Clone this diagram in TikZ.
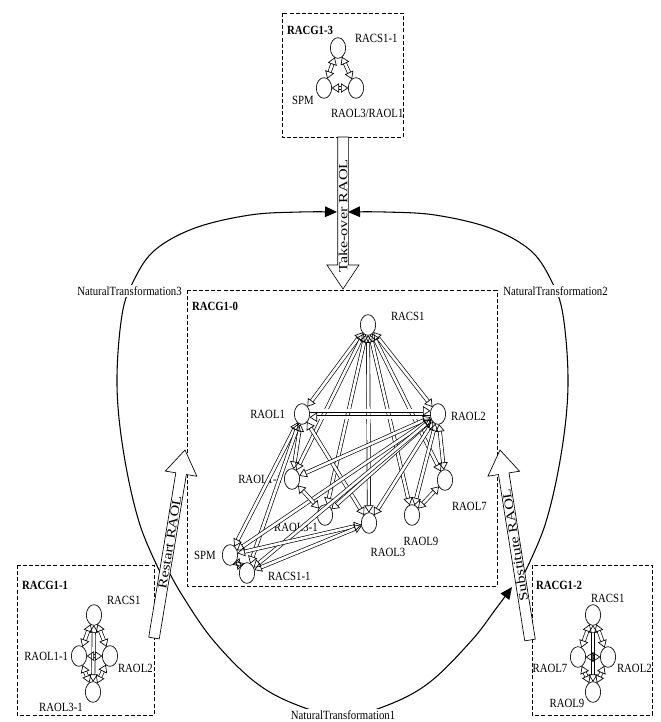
\documentclass[tikz,border=0pt]{standalone}
\usepackage{fontspec}
\setmainfont{Liberation Serif}[FakeStretch=0.86]
\usetikzlibrary{arrows.meta,shapes.geometric,calc}

% hollow block arrow from tail #1 to apex #2
\newcommand\hollowarrow[2]{%
  \path ($(#2)!18pt!(#1)$) coordinate (hb);
  \draw[bigarr] ($(#1)!4pt!90:(#2)$) -- ($(hb)!4pt!90:(#2)$) -- ($(hb)!12pt!90:(#2)$) -- (#2)
    -- ($(hb)!12pt!-90:(#2)$) -- ($(hb)!4pt!-90:(#2)$) -- ($(#1)!4pt!-90:(#2)$) -- cycle;
}

\begin{document}
\begin{tikzpicture}[x=0.75pt,y=-0.75pt]
\tikzset{
  every node/.style={font=\fontsize{9.4}{11}\selectfont, inner sep=0pt, outer sep=0pt},
  st/.style={draw, ellipse, line width=0.5pt, minimum width=11.5pt, minimum height=15.5pt, fill=white},
  grp/.style={draw, line width=0.5pt, dash pattern=on 3pt off 1.6pt},
  gname/.style={font=\fontsize{9.4}{11}\selectfont\bfseries, anchor=west},
  ht/.tip={Triangle[open, length=5.5pt, width=7pt, line width=0.5pt]},
  hol/.style={double, double distance=2pt, line width=0.5pt, arrows={ht-ht}},
  hol1/.style={double, double distance=2pt, line width=0.5pt, arrows={-ht}},
  nat/.style={line width=0.8pt, arrows={-{Triangle[length=9pt,width=8pt]}}},
  natlbl/.style={fill=white, inner sep=1pt},
  bigarr/.style={draw, fill=white, line width=0.5pt},
  bigtxt/.style={xscale=1.5, transform shape},
}
\useasboundingbox (0,0) rectangle (661,722);

% natural transformations
\draw[nat] plot[smooth, tension=0.6] coordinates {(163,578) (140,525) (124,455) (117,385) (122,315) (134,280) (155,250) (195,228) (250,215) (300,212) (337,212)};
\draw[nat] plot[smooth, tension=0.6] coordinates {(522,578) (545,525) (561,455) (568,385) (563,315) (551,280) (530,250) (490,228) (435,215) (385,212) (348,212)};
\draw[nat] plot[smooth, tension=0.6] coordinates {(166,566) (182,595) (213,640) (255,682) (297,705) (343,716) (388,705) (430,682) (472,640) (495,610) (512,587)};
\node[natlbl, anchor=east] (nt3) at (183,291) {NaturalTransformation3};
\node[natlbl, anchor=west] (nt2) at (502,291) {NaturalTransformation2};
\node[natlbl] (nt1) at (343,715) {NaturalTransformation1};

% group frames
\draw[grp] (282,13) rectangle (403,137);
\draw[grp] (187,290) rectangle (497,586);
\draw[grp] (17,565) rectangle (154,715);
\draw[grp] (532,565) rectangle (652,715);
\node[gname] (n3) at (287,30) {RACG1-3};
\node[gname] (n0) at (192,306) {RACG1-0};
\node[gname] (n1) at (22,585) {RACG1-1};
\node[gname] (n2) at (536,585) {RACG1-2};

% block arrows between groups
\coordinate (toT) at (343,137); \coordinate (toP) at (343,289);
\coordinate (rsT) at (154,638); \coordinate (rsP) at (185,450);
\coordinate (suT) at (530,640); \coordinate (suP) at (500,450);
\hollowarrow{toT}{toP}
\hollowarrow{rsT}{rsP}
\hollowarrow{suT}{suP}
\node[rotate=90, bigtxt] (tot) at ($(toT)!0.52!(toP)$) {Take-over RAOL};
\node[rotate=80.6, bigtxt] (rst) at ($(rsT)!0.51!(rsP)$) {Restart RAOL};
\node[rotate=99, bigtxt] (sut) at ($(suT)!0.5!(suP)$) {Substitute RAOL};

% RACG1-3
\node[st] (a1) at (338,48) {};
\node[st] (a2) at (324,88) {};
\node[st] (a3) at (356,88) {};
\node[anchor=west] (la1) at (355,38) {RACS1-1};
\node (la2) at (303,100) {SPM};
\node[anchor=west] (la3) at (331,113) {RAOL3/RAOL1};
\draw[hol] (a1) -- (a2);
\draw[hol] (a1) -- (a3);
\draw[hol] (a2) -- (a3);

% RACG1-1
\node[st] (b1) at (94,615) {};
\node[st] (b2) at (79,656) {};
\node[st] (b3) at (110,656) {};
\node[st] (b4) at (93,692) {};
\node[anchor=west] (lb1) at (107,600) {RACS1};
\node[anchor=east] (lb2) at (68,656) {RAOL1-1};
\node[anchor=west] (lb3) at (118,668) {RAOL2};
\node (lb4) at (61,707) {RAOL3-1};
\draw[hol] (b1) -- (b2);
\draw[hol] (b1) -- (b3);
\draw[hol] (b2) -- (b4);
\draw[hol] (b3) -- (b4);
\draw[hol] (b1) -- (b4);
\draw[hol] (b2) -- (b3);

% RACG1-2
\node[st] (c1) at (593,615) {};
\node[st] (c2) at (578,657) {};
\node[st] (c3) at (608,657) {};
\node[st] (c4) at (593,692) {};
\node[anchor=west] (lc1) at (591,598) {RACS1};
\node (lc2) at (550,668) {RAOL7};
\node[anchor=west] (lc3) at (617,668) {RAOL2};
\node (lc4) at (567,703) {RAOL9};
\draw[hol] (c1) -- (c2);
\draw[hol] (c1) -- (c3);
\draw[hol] (c2) -- (c4);
\draw[hol] (c3) -- (c4);
\draw[hol] (c1) -- (c4);
\draw[hol] (c2) -- (c3);

% RACG1-0
\node[st] (cs1) at (368,325) {};
\node[st] (l1) at (302,414) {};
\node[st] (l2) at (438,414) {};
\node[st] (l11) at (292,479) {};
\node[st] (l31) at (325,515) {};
\node[st] (l3) at (369,523) {};
\node[st] (l9) at (412,515) {};
\node[st] (l7) at (445,480) {};
\node[st] (spm) at (230,555) {};
\node[st] (cs11) at (247,573) {};
\node[anchor=west] (tcs1) at (391,316) {RACS1};
\node[anchor=east] (tl1) at (285,414) {RAOL1};
\node[anchor=west] (tl2) at (451,416) {RAOL2};
\node[anchor=east] (tl11) at (282,479) {RAOL1-1};
\node (tl31) at (296,527) {RAOL3-1};
\node[anchor=west] (tl7) at (452,506) {RAOL7};
\node (tl9) at (421,541) {RAOL9};
\node (tl3) at (388,552) {RAOL3};
\node (tspm) at (205,555) {SPM};
\node[anchor=west] (tcs11) at (268,576) {RACS1-1};

\foreach \t in {l1,l2,l11,l31,l3,l9,l7} \draw[hol] (cs1) -- (\t);
\draw[hol1] ([yshift=2.4pt]l1.east) -- ([yshift=2.4pt]l2.west);
\draw[hol1] ([yshift=-2.4pt]l2.west) -- ([yshift=-2.4pt]l1.east);
\foreach \t in {l11,l3,spm,cs11} \draw[hol] (l1) -- (\t);
\foreach \t in {l11,l31,l3,l9,l7,spm,cs11} \draw[hol] (l2) -- (\t);
\draw[hol] (l11) -- (l31);
\draw[hol] (l3) -- (spm);
\draw[hol] (l3) -- (cs11);
\draw[hol] (l9) -- (l7);
\draw[hol] (spm) -- (cs11);
\end{tikzpicture}
\end{document}
